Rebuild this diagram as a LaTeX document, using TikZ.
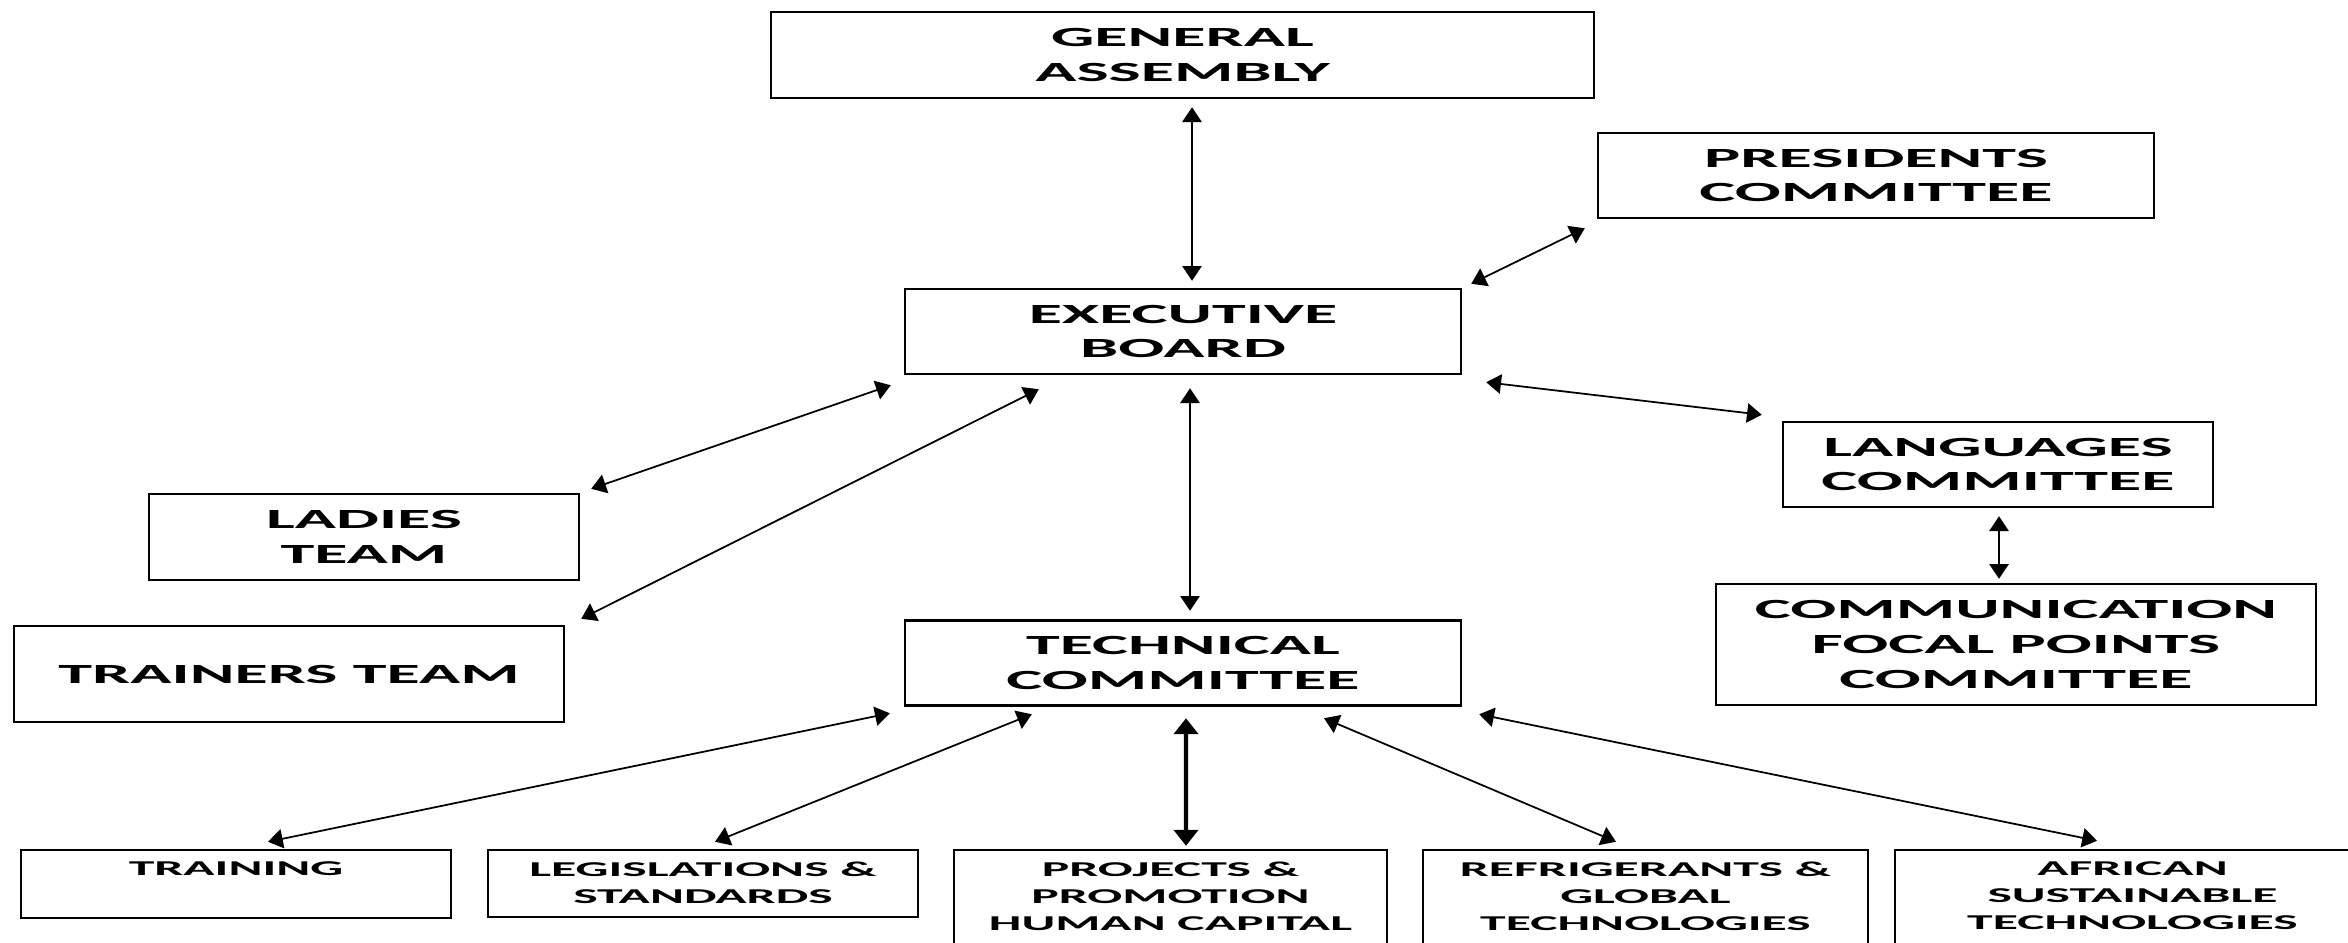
\documentclass[tikz,border=0pt]{standalone}
\usepackage{fontspec}
\setmainfont{Carlito}[FakeStretch=2.45]
\usetikzlibrary{arrows.meta}
\tikzset{
  >={Triangle[length=4.2pt,width=5.5pt]},
  box/.style={draw, line width=0.7pt, inner sep=0pt, align=center,
    font=\fontsize{7.9}{9.9}\selectfont\bfseries},
  bbox/.style={draw, line width=0.7pt, inner sep=0pt,
    font=\fontsize{6.0}{7.7}\selectfont\bfseries},
  conn/.style={<->, line width=0.5pt},
  thickconn/.style={{Triangle[length=4.5pt,width=6.8pt]}-{Triangle[length=4.5pt,width=6.8pt]}, line width=1.2pt}
}
\newcommand{\toptext}[3]{\parbox[c][#1][t]{#2}{\centering\vspace*{1.2mm}#3}}
\begin{document}
\begin{tikzpicture}[x=0.1mm,y=-0.1mm]
\useasboundingbox (0,0) rectangle (2348,942);
\node[box, minimum width=82.3mm, minimum height=8.6mm] (ga) at (1182.5,55) {GENERAL\\ASSEMBLY};
\node[box, minimum width=55.6mm, minimum height=8.5mm] (pres) at (1876,175.5) {PRESIDENTS\\COMMITTEE};
\node[box, minimum width=55.6mm, minimum height=8.5mm] (eb) at (1183,331.5) {EXECUTIVE\\BOARD};
\node[box, minimum width=43mm, minimum height=8.6mm] (ladies) at (364,537) {LADIES\\TEAM};
\node[box, minimum width=55mm, minimum height=9.6mm] (trainers) at (289,674) {\raisebox{-0.8mm}{TRAINERS TEAM}};
\node[box, minimum width=43mm, minimum height=8.5mm] (lang) at (1998,464.5) {LANGUAGES\\COMMITTEE};
\node[box, minimum width=60mm, minimum height=12.1mm] (comm) at (2016,644.5) {COMMUNICATION\\FOCAL POINTS\\COMMITTEE};
\node[box, minimum width=55.6mm, minimum height=8.5mm] (tc) at (1183,663) {TECHNICAL\\COMMITTEE};
\node[bbox] (training) at (236,884) {\toptext{6.8mm}{43mm}{TRAINING}};
\node[bbox] (leg) at (703,883.5) {\toptext{6.7mm}{43mm}{LEGISLATIONS \&\\STANDARDS}};
\node[bbox] (proj) at (1170.5,925) {\toptext{15mm}{43.3mm}{PROJECTS \&\\PROMOTION\\HUMAN CAPITAL}};
\node[bbox] (refr) at (1645.5,925) {\toptext{15mm}{44.5mm}{REFRIGERANTS \&\\GLOBAL\\TECHNOLOGIES}};
\node[bbox] (afr) at (2132.5,925) {\toptext{15mm}{47.5mm}{AFRICAN\\SUSTAINABLE\\TECHNOLOGIES}};

\draw[conn] ([shift={(9.5,8)}]ga.south) -- ([shift={(9,-7)}]eb.north);
\draw[conn] ([shift={(9,-4)}]eb.north east) -- ([shift={(-12,9)}]pres.south west);
\draw[conn] ([shift={(-13,10)}]eb.south west) -- ([shift={(11,-4)}]ladies.north east);
\draw[conn] ([shift={(135,14)}]eb.south west) -- ([shift={(16,-6)}]trainers.north east);
\draw[conn] ([shift={(7,13)}]eb.south) -- ([shift={(7,-8.5)}]tc.north);
\draw[conn] ([shift={(24,7)}]eb.south east) -- ([shift={(-20,-6)}]lang.north west);
\draw[conn] ([shift={(1,8)}]lang.south) -- ([shift={(-17,-4)}]comm.north);
\draw[conn] ([shift={(-14,6.5)}]tc.south west) -- ([shift={(32,-7)}]training.north);
\draw[conn] ([shift={(128,7.5)}]tc.south west) -- ([shift={(12,-7)}]leg.north);
\draw[thickconn] ([shift={(3,11.5)}]tc.south) -- ([shift={(15.5,-3)}]proj.north);
\draw[conn] ([shift={(141,11.5)}]tc.south) -- ([shift={(-29.5,-7)}]refr.north);
\draw[conn] ([shift={(17,7.5)}]tc.south east) -- ([shift={(-35.5,-8)}]afr.north);
\end{tikzpicture}
\end{document}
